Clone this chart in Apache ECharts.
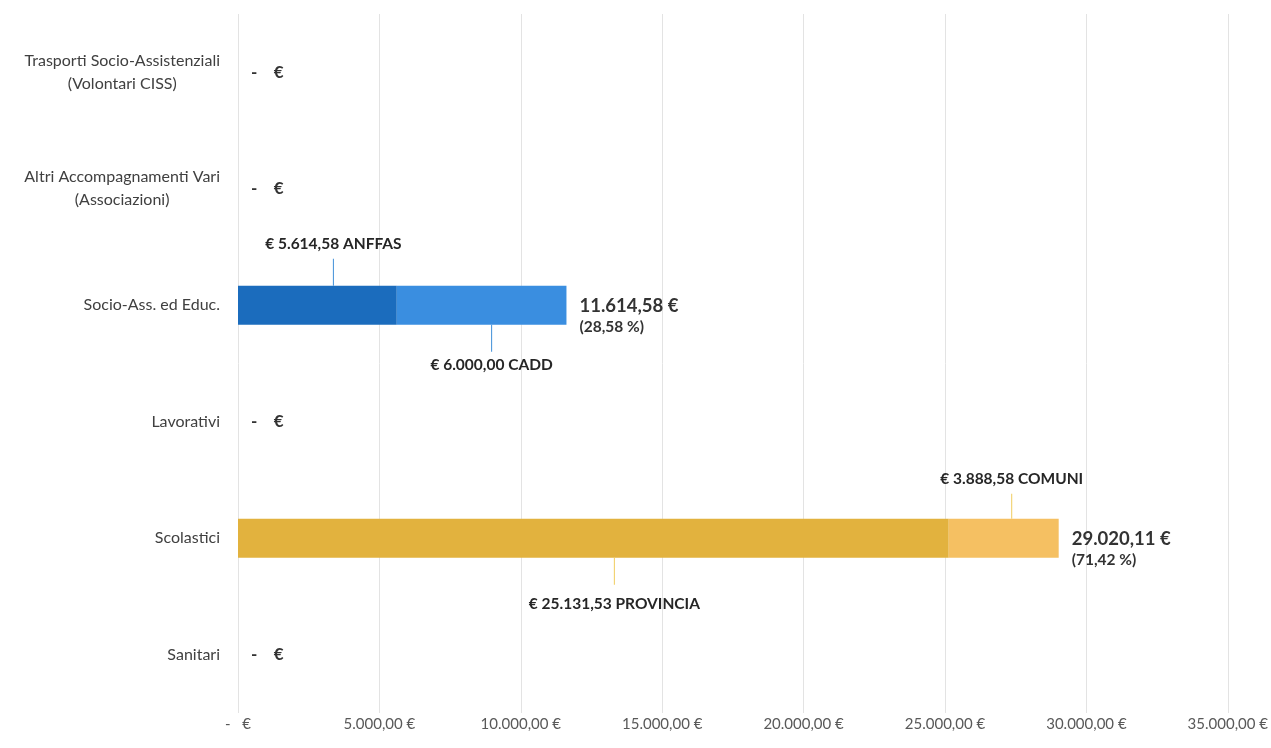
<!DOCTYPE html>
<html>
<head>
<meta charset="utf-8">
<title>Trasporti</title>
<script src="https://cdn.jsdelivr.net/npm/echarts@6/dist/echarts.min.js"></script>
<style>
  html, body { margin: 0; padding: 0; background: #fff; }
  #main { width: 1271px; height: 748px; }
</style>
</head>
<body>
<div id="main"></div>
<script>
// dati
var categorie = [
  "Trasporti Socio-Assistenziali\n(Volontari CISS)",
  "Altri Accompagnamenti Vari\n(Associazioni)",
  "Socio-Ass. ed Educ.",
  "Lavorativi",
  "Scolastici",
  "Sanitari"
];
var quotaA = [0, 0, 5614.58, 0, 25131.53, 0]; // parte scura
var enteA = ["", "", "ANFFAS", "", "PROVINCIA", ""];
var quotaB = [0, 0, 6000.0, 0, 3888.58, 0]; // parte chiara
var enteB = ["", "", "CADD", "", "COMUNI", ""];
var totali = [0, 0, 11614.58, 0, 29020.11, 0];
var percentuali = [0, 0, 28.58, 0, 71.42, 0];
var tickAsse = [0, 5000, 10000, 15000, 20000, 25000, 30000, 35000];

// stili
var FONT = "Lato, 'Open Sans', sans-serif";
var coloriScuri = { "Socio-Ass. ed Educ.": "#1b6cbd", "Scolastici": "#e2b23e" };
var coloriChiari = { "Socio-Ass. ed Educ.": "#3a8ee0", "Scolastici": "#f5c062" };
var coloriLinea = { "Socio-Ass. ed Educ.": "#3f8fd8", "Scolastici": "#f0cc5e" };
// sopra/sotto la barra, lunghezza della linea di richiamo, altezza riga testo, spostamento x
var posEtichetta = {
  ANFFAS: { sopra: true, linea: 27, riga: 30, dx: 16 },
  CADD: { sopra: false, linea: 27, riga: 26, dx: 10 },
  PROVINCIA: { sopra: false, linea: 27, riga: 38, dx: 21 },
  COMUNI: { sopra: true, linea: 25, riga: 30, dx: 8 }
};

// 5000 -> "5.000,00"
function fmt(v) {
  var s = v.toFixed(2).split(".");
  return s[0].replace(/\B(?=(\d{3})+(?!\d))/g, ".") + "," + s[1];
}

function quotaItem(val, ente, i, colori) {
  var item = { value: val, itemStyle: { color: colori[categorie[i]] || "#cccccc" } };
  if (!ente) {
    item.label = { show: false };
    return item;
  }
  var p = posEtichetta[ente];
  var testo = "{t|€ " + fmt(val) + " " + ente + "}";
  item.label = {
    show: true,
    position: p.sopra ? "top" : "bottom",
    distance: 0,
    offset: [p.dx, 0],
    formatter: p.sopra ? testo + "\n{l| }" : "{l| }\n" + testo,
    rich: {
      t: {
        fontFamily: FONT,
        fontSize: 15.5,
        fontWeight: "bold",
        color: "#262626",
        lineHeight: p.riga,
        align: "center"
      },
      l: {
        width: 1,
        height: p.linea,
        lineHeight: p.linea,
        fontSize: 1,
        backgroundColor: coloriLinea[categorie[i]],
        align: "center"
      }
    }
  };
  return item;
}

var datiA = quotaA.map(function (v, i) { return quotaItem(v, enteA[i], i, coloriScuri); });
var datiB = quotaB.map(function (v, i) { return quotaItem(v, enteB[i], i, coloriChiari); });
var datiTot = totali.map(function (t, i) {
  if (t === 0) return { value: t, label: { formatter: "{z|-    €}" } };
  return {
    value: t,
    label: {
      formatter: "{a|" + fmt(t) + " €}\n{b|(" + fmt(percentuali[i]) + " %)}",
      offset: [0, 11]
    }
  };
});

var chartDom = document.getElementById("main");
var myChart = echarts.init(chartDom, null, { renderer: "canvas" });
var option = {
  animation: false,
  backgroundColor: "#ffffff",
  grid: { left: 238, right: 43, top: 14, bottom: 35, containLabel: false },
  xAxis: {
    type: "value",
    min: tickAsse[0],
    max: tickAsse[tickAsse.length - 1],
    interval: tickAsse[1] - tickAsse[0],
    axisLine: { show: false },
    axisTick: { show: false },
    splitLine: { lineStyle: { color: "#e3e3e3", width: 1 } },
    axisLabel: {
      margin: 4,
      fontFamily: FONT,
      fontSize: 15,
      color: "#595959",
      formatter: function (v) {
        return v === 0 ? "-   €" : fmt(v) + " €";
      }
    }
  },
  yAxis: {
    type: "category",
    inverse: true,
    data: categorie,
    axisLine: { show: false },
    axisTick: { show: false },
    axisLabel: {
      margin: 18,
      formatter: function (v) {
        return v.split("\n").map(function (r) { return "{c|" + r + "}"; }).join("\n");
      },
      rich: {
        c: { align: "center", fontFamily: FONT, fontSize: 16, color: "#404040", lineHeight: 23 }
      }
    }
  },
  series: [
    {
      name: "Quota A",
      type: "bar",
      stack: "tot",
      barWidth: 39,
      barGap: "-100%",
      data: datiA
    },
    {
      name: "Quota B",
      type: "bar",
      stack: "tot",
      barWidth: 39,
      barGap: "-100%",
      data: datiB
    },
    {
      name: "Totale",
      type: "bar",
      barWidth: 39,
      barGap: "-100%",
      silent: true,
      z: 1,
      itemStyle: { color: "rgba(0,0,0,0)" },
      data: datiTot,
      label: {
        show: true,
        position: "right",
        distance: 13,
        color: "#333333",
        rich: {
          a: { fontFamily: FONT, fontSize: 18.5, fontWeight: "bold", color: "#333333", lineHeight: 22 },
          b: { fontFamily: FONT, fontSize: 15.5, fontWeight: "bold", color: "#333333", lineHeight: 20 },
          z: { fontFamily: FONT, fontSize: 17, fontWeight: "bold", color: "#333333" }
        }
      }
    }
  ]
};

option && myChart.setOption(option);
</script>
</body>
</html>
